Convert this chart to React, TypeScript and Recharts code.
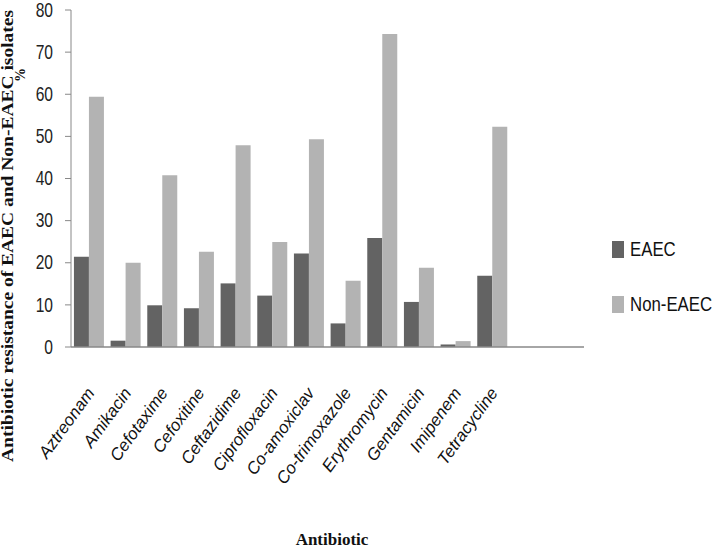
import React from 'react';
import { BarChart, Bar, XAxis, YAxis } from 'recharts';

const antibiotics = [
  'Aztreonam',
  'Amikacin',
  'Cefotaxime',
  'Cefoxitine',
  'Ceftazidime',
  'Ciprofloxacin',
  'Co-amoxiclav',
  'Co-trimoxazole',
  'Erythromycin',
  'Gentamicin',
  'Imipenem',
  'Tetracycline',
];
const eaec = [21.4, 1.5, 9.9, 9.2, 15.1, 12.2, 22.2, 5.6, 25.9, 10.7, 0.6, 16.9];
const nonEaec = [59.4, 20, 40.8, 22.6, 47.9, 24.9, 49.3, 15.7, 74.3, 18.8, 1.4, 52.3];
const yTicks = [0, 10, 20, 30, 40, 50, 60, 70, 80];
const seriesNames = ['EAEC', 'Non-EAEC'];

const data = antibiotics.map((name, i) => ({ name, EAEC: eaec[i], 'Non-EAEC': nonEaec[i] }));

const DARK = '#636363';
const LIGHT = '#b3b3b3';
const AXIS = '#888888';
const SANS = '"Liberation Sans Narrow", "Liberation Sans", Arial, sans-serif';
const SERIF = '"Liberation Serif", "DejaVu Serif", serif';

// x labels: italic, steep angle like the squeezed original
const AngledTick = (props: any) => {
  const { x, y, payload } = props;
  return (
    <g transform={`translate(${x + 6},${y + 38})`}>
      <text
        textAnchor="end"
        transform="rotate(-54)"
        fontFamily={SANS}
        fontStyle="italic"
        fontSize={17}
        fill="#111"
      >
        {payload.value}
      </text>
    </g>
  );
};

// y labels: narrow digits
const NumberTick = (props: any) => {
  const { x, y, payload } = props;
  return (
    <g transform={`translate(${x},${y})`}>
      <text
        textAnchor="end"
        dominantBaseline="central"
        transform="scale(0.78,1)"
        fontFamily={SANS}
        fontSize={20}
        fill="#222"
      >
        {payload.value}
      </text>
    </g>
  );
};

export default function App() {
  const colors = [DARK, LIGHT];
  return (
    <div style={{ position: 'absolute', left: 0, top: 0, width: 722, height: 550, background: '#fff' }}>
      <BarChart
        width={722}
        height={550}
        data={data}
        margin={{ top: 10, right: 138, left: 0, bottom: 0 }}
        barCategoryGap="8%"
        barGap={0}
      >
        <XAxis
          dataKey="name"
          height={203}
          axisLine={{ stroke: AXIS, strokeWidth: 1.5 }}
          tickLine={false}
          interval={0}
          tick={<AngledTick />}
          padding={{ left: 0, right: 73 }}
        />
        <YAxis
          width={71}
          domain={[0, 80]}
          ticks={yTicks}
          axisLine={{ stroke: AXIS }}
          tickLine={{ stroke: AXIS }}
          tickSize={6}
          tickMargin={12}
          tick={<NumberTick />}
        />
        <Bar dataKey="EAEC" fill={DARK} isAnimationActive={false} />
        <Bar dataKey="Non-EAEC" fill={LIGHT} isAnimationActive={false} />
      </BarChart>

      <div
        style={{
          position: 'absolute',
          left: 612,
          top: 237,
          fontFamily: SANS,
          fontSize: 21,
          color: '#111',
          whiteSpace: 'nowrap',
        }}
      >
        {seriesNames.map((label, i) => (
          <div
            key={label}
            style={{ display: 'flex', alignItems: 'center', height: 24, marginBottom: i === 0 ? 31 : 0 }}
          >
            <span
              style={{ display: 'inline-block', width: 12, height: 17, background: colors[i], marginRight: 6 }}
            />
            <span style={{ display: 'inline-block', transform: 'scaleX(0.8)', transformOrigin: 'left center' }}>
              {label}
            </span>
          </div>
        ))}
      </div>

      <svg
        width={722}
        height={550}
        style={{ position: 'absolute', left: 0, top: 0, pointerEvents: 'none' }}
      >
        <text
          transform="translate(13,236) rotate(-90)"
          textAnchor="middle"
          fontFamily={SERIF}
          fontWeight="bold"
          fontSize={16}
          textLength={452}
          lengthAdjust="spacingAndGlyphs"
          fill="#111"
        >
          Antibiotic resistance of EAEC and Non-EAEC isolates
        </text>
        <text
          transform="translate(25,75) rotate(-90)"
          textAnchor="middle"
          fontFamily={SERIF}
          fontWeight="bold"
          fontSize={14}
          fill="#111"
        >
          %
        </text>
        <text
          x={332}
          y={545}
          textAnchor="middle"
          fontFamily={SERIF}
          fontWeight="bold"
          fontSize={17}
          fill="#111"
        >
          Antibiotic
        </text>
      </svg>
    </div>
  );
}
